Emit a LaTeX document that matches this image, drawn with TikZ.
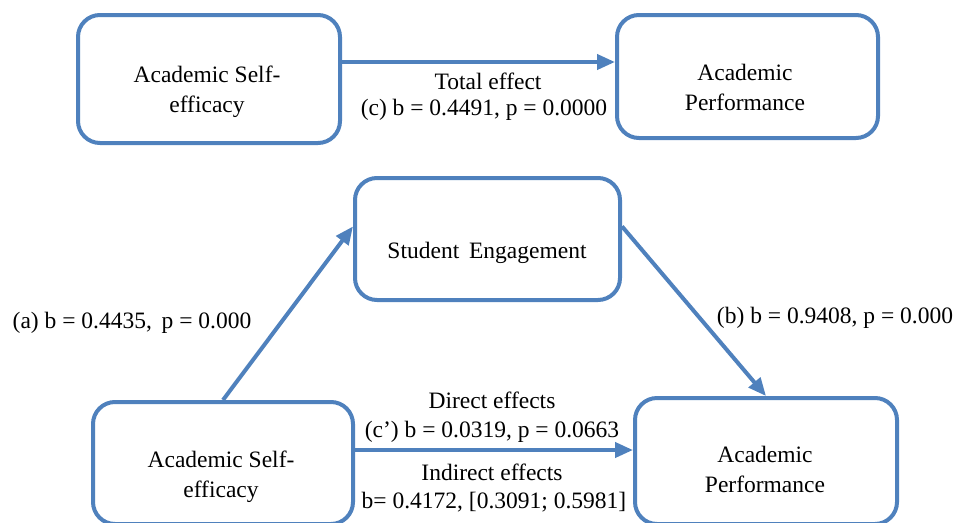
\documentclass[tikz,border=0pt]{standalone}
\usepackage{fontspec}
\setmainfont{Liberation Serif}
\usetikzlibrary{arrows.meta,calc}
\definecolor{boxblue}{RGB}{79,129,189}
\tikzset{
  box/.style={draw=boxblue, line width=4pt, rounded corners=22pt, fill=white, inner sep=0pt},
  arr/.style={draw=boxblue, line width=4pt, -{Triangle[length=18pt,width=15pt]}},
  txt/.style={anchor=base, inner sep=0pt, font=\fontsize{23.5}{28}\selectfont},
}
\begin{document}
\begin{tikzpicture}[x=1pt,y=-1pt]
\useasboundingbox (0,0) rectangle (957,522);
\clip (0,0) rectangle (957,522);
% boxes
\node[box, minimum width=262pt, minimum height=128pt] (ase1) at (209,79) {};
\node[box, minimum width=261pt, minimum height=123pt] (apr1) at (747.5,76.5) {};
\node[box, minimum width=265pt, minimum height=122pt] (se) at (487.5,239) {};
\node[box, minimum width=260pt, minimum height=122pt] (ase2) at (223,463) {};
\node[box, minimum width=262pt, minimum height=126pt] (apr2) at (766,461) {};
% box texts
\node[txt] (t1a) at (207,82) {Academic Self-};
\node[txt] (t1b) at (207,112) {efficacy};
\node[txt] (t2a) at (745,80) {Academic};
\node[txt] (t2b) at (745,110) {Performance};
\node[txt] (t3) at (487,258) {Student\, Engagement};
\node[txt] (t4a) at (221,467) {Academic Self-};
\node[txt] (t4b) at (221,497) {efficacy};
\node[txt] (t5a) at (765,462) {Academic};
\node[txt] (t5b) at (765,492) {Performance};
% connectors
\draw[arr] ([yshift=17pt]ase1.east) -- ([yshift=17pt]ase1.east -| apr1.west);
\draw[arr] (ase2.north) -- ($(se.north west)!0.4!(se.south west)$);
\draw[arr] ($(se.north east)!0.4!(se.south east)$) -- (apr2.north);
\draw[arr] ([yshift=13pt]ase2.east) -- ([yshift=13pt]ase2.east -| apr2.west);
% labels
\node[txt] (l1a) at (488,89) {Total effect};
\node[txt] (l1b) at (484,115) {(c) b = 0.4491, p = 0.0000};
\node[txt] (la) at (132,328) {(a) b = 0.4435,\, p = 0.000};
\node[txt] (lb) at (835,323) {(b) b = 0.9408, p = 0.000};
\node[txt] (ld1) at (492,408) {Direct effects};
\node[txt] (ld2) at (492,437) {(c') b = 0.0319, p = 0.0663};
\node[txt] (li1) at (492,480) {Indirect effects};
\node[txt] (li2) at (494,508) {b= 0.4172, [0.3091; 0.5981]};
\end{tikzpicture}
\end{document}
